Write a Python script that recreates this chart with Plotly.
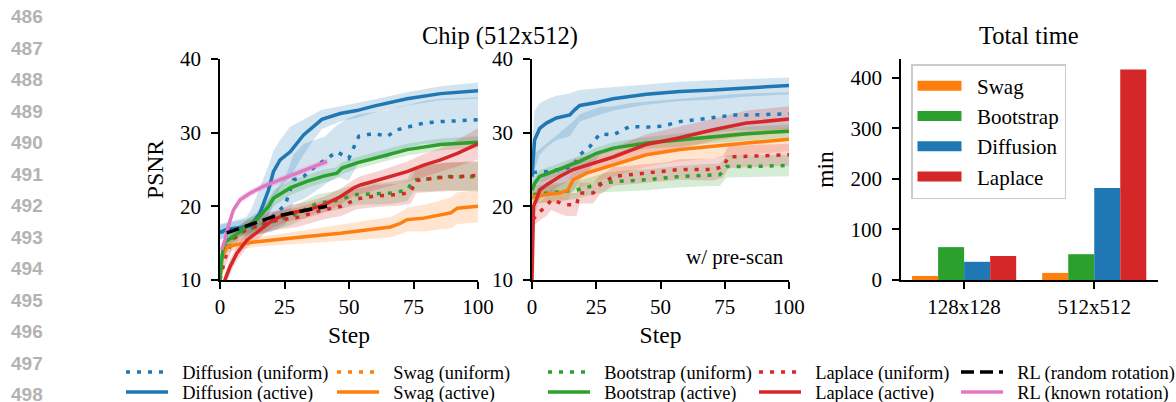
import plotly.graph_objects as go

# ---------------- colours ----------------
BLUE, ORANGE, GREEN, RED, PINK = '#1f77b4', '#ff7f0e', '#2ca02c', '#d62728', '#e377c2'
RGB = {BLUE: (31, 119, 180), ORANGE: (255, 127, 14), GREEN: (44, 160, 44),
       RED: (214, 39, 40), PINK: (227, 119, 194)}

# ---------------- left panel (no pre-scan) ----------------
L_DIFF_ACT_STEP = [0, 2, 5, 10, 12, 15.5, 18.8, 20.7, 23.3, 27.2, 32.4, 36.3, 39.5, 46.6, 53, 59.6, 72.5, 85.5, 100]
L_DIFF_ACT = [16.4, 16.8, 17.0, 17.2, 17.4, 19.1, 22.2, 24.7, 26.3, 27.4, 29.7, 30.8, 31.8, 32.6, 33.0, 33.6, 34.6, 35.3, 35.7]
L_DIFF_ACT_HI = [17.6, 17.8, 18.0, 18.5, 19.5, 22.5, 25.5, 27.5, 29.0, 30.8, 31.8, 32.5, 33.1, 33.6, 34.0, 34.5, 35.5, 36.3, 36.8]
L_DIFF_ACT_LO = [15.5, 15.8, 16.0, 16.2, 16.4, 17.0, 18.5, 20.5, 22.5, 24.0, 27.0, 29.0, 30.5, 31.5, 32.0, 32.7, 33.7, 34.4, 34.6]

L_DIFF_UNI_STEP = [0, 5, 10, 15, 20, 25.3, 28.5, 32.4, 36.9, 40.8, 45.3, 49.9, 53.8, 59.6, 64.8, 68.7, 73.2, 79, 85.5, 100]
L_DIFF_UNI = [16.5, 16.8, 17.0, 17.3, 18.5, 20.2, 23.6, 24.05, 25.4, 26.3, 27.4, 26.5, 29.5, 29.9, 29.5, 30.4, 30.8, 31.3, 31.5, 31.75]
L_DIFF_UNI_HI = [17.5, 17.8, 18.2, 19.0, 21.5, 24.0, 27.0, 28.5, 29.0, 29.5, 31.0, 32.0, 32.5, 32.8, 33.0, 33.5, 33.8, 34.3, 34.6, 34.8]
L_DIFF_UNI_LO = [15.5, 15.8, 16.0, 16.2, 16.5, 17.5, 20.5, 21.0, 22.0, 23.0, 24.0, 23.5, 26.0, 26.5, 26.5, 27.5, 28.0, 28.5, 28.5, 28.7]

L_BOOT_ACT_STEP = [0, 1, 2, 5.2, 10.4, 14.2, 18.8, 20.7, 27.2, 33.7, 40.2, 45.3, 47.3, 53.1, 59.6, 72.5, 85.5, 100]
L_BOOT_ACT = [10.0, 14.0, 15.2, 15.9, 17.3, 18.2, 20.0, 21.1, 22.5, 23.4, 24.1, 24.5, 25.2, 25.9, 26.5, 27.7, 28.4, 28.7]
L_BOOT_ACT_HI = [11.0, 15.0, 16.0, 16.7, 18.2, 19.2, 21.0, 22.2, 23.5, 24.3, 25.0, 25.3, 26.0, 26.7, 27.3, 28.5, 29.2, 29.5]
L_BOOT_ACT_LO = [9.5, 13.0, 14.4, 15.1, 16.4, 17.2, 19.0, 20.0, 21.5, 22.5, 23.2, 23.7, 24.4, 25.1, 25.7, 26.9, 27.6, 27.9]

L_BOOT_UNI_STEP = [0, 1, 3, 7.8, 18.1, 27.2, 37.6, 44, 53.1, 66.1, 72.5, 75.1, 80.3, 88.1, 100]
L_BOOT_UNI = [10.0, 13.5, 15.0, 16.5, 17.7, 18.6, 20.4, 20.7, 21.6, 21.8, 22.2, 23.6, 23.7, 24.05, 24.0]
L_BOOT_UNI_HI = [11.0, 14.5, 16.0, 17.5, 18.8, 19.8, 21.6, 22.0, 23.0, 23.3, 23.7, 25.3, 25.6, 26.0, 26.0]
L_BOOT_UNI_LO = [9.5, 12.5, 14.0, 15.5, 16.6, 17.4, 19.2, 19.4, 20.2, 20.3, 20.7, 22.0, 22.0, 22.2, 22.0]

L_LAP_UNI_STEP = [0, 2, 5, 10, 20, 30, 40, 47, 53, 60, 70, 74, 76, 85, 100]
L_LAP_UNI = [10.0, 13.0, 15.5, 16.8, 18.0, 18.5, 19.5, 20.0, 21.0, 21.4, 21.6, 22.0, 23.5, 23.9, 24.2]
L_LAP_UNI_HI = [11.0, 14.2, 16.6, 18.0, 19.3, 19.8, 20.8, 21.3, 22.4, 22.9, 23.1, 23.6, 25.2, 25.8, 26.2]
L_LAP_UNI_LO = [9.5, 11.8, 14.4, 15.6, 16.7, 17.2, 18.2, 18.7, 19.6, 19.9, 20.1, 20.4, 21.8, 22.0, 22.2]

L_LAP_ACT_STEP = [1, 1.9, 3.9, 6.5, 10.4, 15.5, 20.7, 27.2, 33.7, 40.2, 46.6, 51.8, 54.4, 59.6, 66.1, 72.5, 79, 85.5, 92, 100]
L_LAP_ACT = [8.0, 10.0, 11.8, 13.6, 15.4, 16.8, 18.2, 19.1, 19.5, 20.2, 21.3, 22.5, 22.9, 23.4, 24.05, 24.7, 25.6, 26.3, 27.2, 28.5]
L_LAP_ACT_HI = [9.0, 11.0, 12.8, 14.6, 16.4, 17.8, 19.2, 20.2, 20.6, 21.3, 22.4, 23.6, 24.1, 24.6, 25.3, 26.1, 27.1, 27.9, 29.0, 30.6]
L_LAP_ACT_LO = [7.0, 9.0, 10.8, 12.6, 14.4, 15.8, 17.2, 18.0, 18.4, 19.1, 20.2, 21.4, 21.7, 22.2, 22.8, 23.3, 24.1, 24.7, 25.4, 26.4]

L_SWAG_ACT_STEP = [1, 1.3, 2.6, 6.5, 14.2, 20.7, 33.7, 46.6, 59.6, 66.1, 70, 72.5, 79, 85.5, 89.4, 92, 100]
L_SWAG_ACT = [13.0, 13.6, 14.5, 14.8, 15.2, 15.4, 15.9, 16.35, 16.9, 17.2, 17.7, 18.2, 18.4, 18.85, 19.1, 19.75, 20.0]
L_SWAG_ACT_HI = [13.8, 14.4, 15.3, 15.5, 15.9, 16.1, 16.8, 17.4, 18.2, 18.6, 19.2, 19.8, 20.2, 20.8, 21.2, 21.9, 22.2]
L_SWAG_ACT_LO = [12.2, 12.8, 13.7, 14.1, 14.5, 14.7, 15.0, 15.3, 15.6, 15.8, 16.2, 16.6, 16.6, 16.9, 17.0, 17.6, 17.8]

# Swag (uniform) is listed in the legend but no curve is visible in the picture
L_SWAG_UNI_STEP = [None]
L_SWAG_UNI = [None]

RL_RANDOM_STEP = [2.6, 7.8, 20.7, 33.7, 41.5]
RL_RANDOM = [16.4, 17.0, 18.6, 19.5, 20.0]

RL_KNOWN_STEP = [0.6, 1.9, 3.2, 5.2, 7.8, 11.7, 16.8, 23.3, 29.8, 36.3, 41.5]
RL_KNOWN = [14.1, 15.4, 17.3, 19.5, 20.9, 21.8, 22.7, 23.6, 24.5, 25.4, 26.1]
RL_KNOWN_HI = [14.6, 15.9, 17.8, 20.0, 21.4, 22.3, 23.2, 24.1, 25.0, 25.9, 26.6]
RL_KNOWN_LO = [13.6, 14.9, 16.8, 19.0, 20.4, 21.3, 22.2, 23.1, 24.0, 24.9, 25.6]

# ---------------- middle panel (w/ pre-scan) ----------------
M_DIFF_ACT_STEP = [0, 1, 3, 5.6, 9.5, 14.7, 16.6, 18.6, 25.1, 31.6, 44.5, 57.5, 70.5, 83.5, 100]
M_DIFF_ACT = [24.0, 29.0, 30.6, 31.3, 32.0, 32.4, 33.1, 33.7, 34.1, 34.6, 35.2, 35.6, 35.8, 36.1, 36.4]
M_DIFF_ACT_HI = [28.0, 33.0, 34.0, 34.5, 35.0, 35.3, 35.6, 35.8, 36.0, 36.2, 36.6, 36.9, 37.1, 37.3, 37.5]
M_DIFF_ACT_LO = [20.0, 25.0, 27.0, 28.0, 29.0, 29.5, 30.5, 31.5, 32.3, 33.0, 33.8, 34.3, 34.5, 34.9, 35.2]

M_DIFF_UNI_STEP = [0.4, 5.6, 10.8, 16, 18.6, 22.5, 26.4, 31.6, 38.1, 44.5, 51, 57.5, 64, 70.5, 78.3, 83.5, 100]
M_DIFF_UNI = [24.6, 24.7, 25.0, 25.4, 27.0, 28.1, 29.85, 29.7, 30.85, 30.75, 30.9, 31.5, 31.75, 32.0, 32.4, 32.4, 32.55]
M_DIFF_UNI_HI = [27.0, 28.5, 30.0, 31.5, 32.5, 33.0, 33.5, 33.6, 34.0, 34.2, 34.4, 34.6, 34.8, 35.0, 35.2, 35.3, 35.5]
M_DIFF_UNI_LO = [21.0, 21.5, 21.8, 22.0, 23.5, 25.0, 27.0, 27.5, 28.5, 28.8, 29.0, 29.5, 29.8, 30.0, 30.3, 30.4, 30.5]

M_BOOT_ACT_STEP = [0, 1, 3, 8.2, 13.4, 18.6, 25.1, 31.6, 44.5, 57.5, 70.5, 83.5, 100]
M_BOOT_ACT = [22.2, 23.1, 24.05, 24.7, 25.4, 26.1, 27.2, 27.9, 28.6, 29.0, 29.5, 29.85, 30.2]
M_BOOT_ACT_HI = [23.2, 24.0, 24.9, 25.5, 26.2, 26.9, 28.0, 28.7, 29.4, 29.9, 30.4, 30.8, 31.1]
M_BOOT_ACT_LO = [21.2, 22.2, 23.2, 23.9, 24.6, 25.3, 26.4, 27.1, 27.8, 28.1, 28.6, 28.9, 29.3]

M_LAP_ACT_STEP = [0, 0.3, 0.6, 1.7, 3, 5.6, 10.8, 16, 21.2, 31.6, 44.5, 57.5, 70.5, 83.5, 100]
M_LAP_ACT = [10.0, 16.0, 20.0, 20.9, 22.2, 22.9, 24.05, 25.0, 25.6, 26.7, 28.4, 29.3, 30.4, 31.3, 31.85]
M_LAP_ACT_HI = [11.0, 17.5, 21.5, 22.2, 23.5, 24.2, 25.3, 26.3, 26.9, 28.0, 29.8, 30.8, 31.9, 33.0, 33.6]
M_LAP_ACT_LO = [9.0, 14.5, 18.5, 19.6, 20.9, 21.6, 22.8, 23.7, 24.3, 25.4, 27.0, 27.8, 28.9, 29.6, 30.1]

M_SWAG_ACT_STEP = [0, 0.4, 5.6, 10.8, 14, 16, 21.2, 31.6, 44.5, 57.5, 70.5, 83.5, 100]
M_SWAG_ACT = [21.0, 21.3, 21.6, 21.8, 22.2, 23.6, 24.5, 25.6, 27.0, 27.7, 28.2, 28.6, 29.1]
M_SWAG_ACT_HI = [22.0, 22.3, 22.7, 23.0, 23.5, 25.0, 26.0, 27.2, 28.6, 29.3, 29.8, 30.2, 30.7]
M_SWAG_ACT_LO = [20.0, 20.3, 20.5, 20.6, 20.9, 22.2, 23.0, 24.0, 25.4, 26.1, 26.6, 27.0, 27.5]

M_LAP_UNI_STEP = [0.4, 2.3, 5.6, 7.5, 10.8, 13.4, 17.3, 18.6, 23.8, 26.4, 31.6, 44.5, 52.3, 57.5, 70.5, 74.4, 76.4, 83.5, 100]
M_LAP_UNI = [18.2, 19.1, 20.0, 20.9, 20.5, 20.2, 20.2, 21.8, 21.8, 22.9, 24.05, 24.5, 24.7, 25.0, 25.0, 25.4, 26.7, 26.8, 27.0]
M_LAP_UNI_HI = [19.5, 20.4, 21.4, 22.3, 22.0, 21.8, 21.8, 23.2, 23.2, 24.2, 25.3, 25.8, 26.0, 26.4, 26.5, 26.9, 28.2, 28.3, 28.5]
M_LAP_UNI_LO = [17.2, 17.9, 18.7, 19.5, 19.0, 18.7, 18.7, 20.4, 20.4, 21.6, 22.8, 23.2, 23.4, 23.6, 23.5, 23.9, 25.2, 25.3, 25.5]

M_BOOT_UNI_STEP = [0.4, 5.6, 12.1, 17.3, 22.5, 27.7, 34.2, 44.5, 57.5, 73.1, 75.7, 83.5, 100]
M_BOOT_UNI = [21.6, 21.8, 22.0, 22.2, 22.7, 23.2, 23.4, 23.6, 24.05, 24.3, 25.4, 25.4, 25.55]
M_BOOT_UNI_HI = [22.8, 23.0, 23.2, 23.4, 23.9, 24.5, 24.8, 25.0, 25.5, 25.8, 26.9, 26.9, 27.0]
M_BOOT_UNI_LO = [20.4, 20.6, 20.8, 21.0, 21.5, 21.9, 22.0, 22.2, 22.6, 22.8, 23.9, 23.9, 24.1]

# ---------------- bar panel (total time, minutes) ----------------
RESOLUTIONS = ['128x128', '512x512']
SWAG_TIME = [8, 14]
BOOT_TIME = [65, 51]
DIFF_TIME = [36, 182]
LAP_TIME = [47.5, 416]

LINE_NUMBERS = [str(n) for n in range(486, 499)]

# ---------------- figure ----------------
W, H = 1176, 402
SERIF = 'Liberation Serif'
GAP = '\u00a0\u00a0'   # small gap between legend swatch and label
fig = go.Figure()


def rgba(c, a):
    r, g, b = RGB[c]
    return f'rgba({r},{g},{b},{a})'


def band(xa, ya, steps, lo, hi, color, alpha=0.2):
    fig.add_trace(go.Scatter(x=list(steps) + list(steps)[::-1], y=list(hi) + list(lo)[::-1],
                             fill='toself', fillcolor=rgba(color, alpha), line=dict(width=0),
                             mode='lines', showlegend=False, hoverinfo='skip', xaxis=xa, yaxis=ya))


def line(xa, ya, steps, vals, color, dash, name, leg, rank, show):
    fig.add_trace(go.Scatter(x=steps, y=vals, mode='lines', name=GAP + name,
                             line=dict(color=color, width=3.5, dash=dash),
                             legend=leg, legendrank=rank, showlegend=show,
                             xaxis=xa, yaxis=ya))


DOT = '4px,7px'
DASHED = '13px,6px'

# left panel
band('x', 'y', L_DIFF_UNI_STEP, L_DIFF_UNI_LO, L_DIFF_UNI_HI, BLUE)
band('x', 'y', L_DIFF_ACT_STEP, L_DIFF_ACT_LO, L_DIFF_ACT_HI, BLUE)
band('x', 'y', L_SWAG_ACT_STEP, L_SWAG_ACT_LO, L_SWAG_ACT_HI, ORANGE)
band('x', 'y', L_BOOT_UNI_STEP, L_BOOT_UNI_LO, L_BOOT_UNI_HI, GREEN)
band('x', 'y', L_BOOT_ACT_STEP, L_BOOT_ACT_LO, L_BOOT_ACT_HI, GREEN)
band('x', 'y', L_LAP_UNI_STEP, L_LAP_UNI_LO, L_LAP_UNI_HI, RED)
band('x', 'y', L_LAP_ACT_STEP, L_LAP_ACT_LO, L_LAP_ACT_HI, RED)
band('x', 'y', RL_KNOWN_STEP, RL_KNOWN_LO, RL_KNOWN_HI, PINK)

line('x', 'y', L_DIFF_UNI_STEP, L_DIFF_UNI, BLUE, DOT, 'Diffusion (uniform)', 'legend', 1, True)
line('x', 'y', L_SWAG_UNI_STEP, L_SWAG_UNI, ORANGE, DOT, 'Swag (uniform)', 'legend', 2, True)
line('x', 'y', L_BOOT_UNI_STEP, L_BOOT_UNI, GREEN, DOT, 'Bootstrap (uniform)', 'legend', 3, True)
line('x', 'y', L_LAP_UNI_STEP, L_LAP_UNI, RED, DOT, 'Laplace (uniform)', 'legend', 4, True)
line('x', 'y', L_DIFF_ACT_STEP, L_DIFF_ACT, BLUE, 'solid', 'Diffusion (active)', 'legend3', 6, True)
line('x', 'y', L_SWAG_ACT_STEP, L_SWAG_ACT, ORANGE, 'solid', 'Swag (active)', 'legend3', 7, True)
line('x', 'y', L_BOOT_ACT_STEP, L_BOOT_ACT, GREEN, 'solid', 'Bootstrap (active)', 'legend3', 8, True)
line('x', 'y', L_LAP_ACT_STEP, L_LAP_ACT, RED, 'solid', 'Laplace (active)', 'legend3', 9, True)
line('x', 'y', RL_KNOWN_STEP, RL_KNOWN, PINK, 'solid', 'RL (known rotation)', 'legend5', 10, True)
line('x', 'y', RL_RANDOM_STEP, RL_RANDOM, 'black', DASHED, 'RL (random rotation)', 'legend4', 5, True)

# middle panel
band('x2', 'y2', M_DIFF_UNI_STEP, M_DIFF_UNI_LO, M_DIFF_UNI_HI, BLUE)
band('x2', 'y2', M_DIFF_ACT_STEP, M_DIFF_ACT_LO, M_DIFF_ACT_HI, BLUE)
band('x2', 'y2', M_SWAG_ACT_STEP, M_SWAG_ACT_LO, M_SWAG_ACT_HI, ORANGE)
band('x2', 'y2', M_BOOT_UNI_STEP, M_BOOT_UNI_LO, M_BOOT_UNI_HI, GREEN)
band('x2', 'y2', M_BOOT_ACT_STEP, M_BOOT_ACT_LO, M_BOOT_ACT_HI, GREEN)
band('x2', 'y2', M_LAP_UNI_STEP, M_LAP_UNI_LO, M_LAP_UNI_HI, RED)
band('x2', 'y2', M_LAP_ACT_STEP, M_LAP_ACT_LO, M_LAP_ACT_HI, RED)

line('x2', 'y2', M_DIFF_UNI_STEP, M_DIFF_UNI, BLUE, DOT, 'Diffusion (uniform)', 'legend', 1, False)
line('x2', 'y2', M_BOOT_UNI_STEP, M_BOOT_UNI, GREEN, DOT, 'Bootstrap (uniform)', 'legend', 3, False)
line('x2', 'y2', M_LAP_UNI_STEP, M_LAP_UNI, RED, DOT, 'Laplace (uniform)', 'legend', 4, False)
line('x2', 'y2', M_DIFF_ACT_STEP, M_DIFF_ACT, BLUE, 'solid', 'Diffusion (active)', 'legend3', 6, False)
line('x2', 'y2', M_SWAG_ACT_STEP, M_SWAG_ACT, ORANGE, 'solid', 'Swag (active)', 'legend3', 7, False)
line('x2', 'y2', M_BOOT_ACT_STEP, M_BOOT_ACT, GREEN, 'solid', 'Bootstrap (active)', 'legend3', 8, False)
line('x2', 'y2', M_LAP_ACT_STEP, M_LAP_ACT, RED, 'solid', 'Laplace (active)', 'legend3', 9, False)

# bar panel
for name, vals, color in [('Swag', SWAG_TIME, ORANGE), ('Bootstrap', BOOT_TIME, GREEN),
                          ('Diffusion', DIFF_TIME, BLUE), ('Laplace', LAP_TIME, RED)]:
    fig.add_trace(go.Bar(x=RESOLUTIONS, y=vals, marker=dict(color=color, line=dict(width=0)),
                         name=name, showlegend=False, xaxis='x3', yaxis='y3'))
    fig.add_trace(go.Scatter(x=[None], y=[None], mode='lines', name=GAP + name,
                             line=dict(color=color, width=15), legend='legend2',
                             xaxis='x3', yaxis='y3'))


def px(v):
    return v / W


def py(v):
    return 1 - v / H


Y0, Y1 = py(280), py(59)
tickfont = dict(family=SERIF, size=21, color='black')
titlefont = dict(family=SERIF, size=23.5, color='black')
axis_common = dict(showline=True, linecolor='black', linewidth=1.5, ticks='outside', ticklen=7,
                   tickwidth=1.5, tickcolor='black', showgrid=False, zeroline=False,
                   tickfont=tickfont, mirror=False)
legfont = dict(family=SERIF, size=18.4, color='black')
row_leg = dict(orientation='h', xanchor='left', yanchor='middle', font=legfont, itemwidth=42,
               bgcolor='rgba(0,0,0,0)')

fig.update_layout(
    width=W, height=H, margin=dict(l=0, r=0, t=0, b=0, autoexpand=False),
    paper_bgcolor='white', plot_bgcolor='white',
    font=dict(family=SERIF, color='black'),
    barmode='group', bargap=0.2, bargroupgap=0,
    xaxis=dict(domain=[px(220), px(478)], range=[0, 100], tickvals=[0, 25, 50, 75, 100],
               anchor='y', title=dict(text='Step', font=titlefont, standoff=9), **axis_common),
    yaxis=dict(domain=[Y0, Y1], range=[10, 40], tickvals=[10, 20, 30, 40], anchor='x',
               title=dict(text='PSNR', font=titlefont, standoff=10), ticklabelstandoff=6, **axis_common),
    xaxis2=dict(domain=[px(532), px(789)], range=[0, 100], tickvals=[0, 25, 50, 75, 100],
                anchor='y2', title=dict(text='Step', font=titlefont, standoff=9), **axis_common),
    yaxis2=dict(domain=[Y0, Y1], range=[10, 40], tickvals=[10, 20, 30, 40], anchor='x2',
                ticklabelstandoff=6, **axis_common),
    xaxis3=dict(domain=[px(901), px(1158)], range=[-0.485, 1.49], anchor='y3', **axis_common),
    yaxis3=dict(domain=[Y0, Y1], range=[0, 437], tickvals=[0, 100, 200, 300, 400], anchor='x3',
                title=dict(text='min', font=titlefont, standoff=10), ticklabelstandoff=6, **axis_common),
    legend=dict(x=px(121), y=py(372), entrywidth=154, **row_leg),
    legend3=dict(x=px(121), y=py(392), entrywidth=154, **row_leg),
    legend4=dict(x=px(956), y=py(372), **row_leg),
    legend5=dict(x=px(956), y=py(392), **row_leg),
    legend2=dict(x=px(911), y=py(64), xanchor='left', yanchor='top',
                 font=dict(family=SERIF, size=21, color='black'), itemwidth=44,
                 bgcolor='rgba(255,255,255,0.8)', bordercolor='#cccccc', borderwidth=1.5,
                 tracegroupgap=0),
)

annotations = [
    dict(text='Chip (512x512)', x=px(500), y=py(35.5), font=dict(family=SERIF, size=24.5, color='black')),
    dict(text='Total time', x=px(1029), y=py(35.5), font=dict(family=SERIF, size=24.5, color='black')),
    dict(text='w/ pre-scan', x=px(786), y=py(257), xanchor='right', font=dict(family=SERIF, size=21, color='black')),
]
for i, lab in enumerate(LINE_NUMBERS):
    annotations.append(dict(text=f'<b>{lab}</b>', x=px(27), y=py(16.7 + 31.5 * i),
                            font=dict(family='Liberation Sans', size=19, color='#b3b3b3')))
for a in annotations:
    a.update(xref='paper', yref='paper', showarrow=False, yanchor=a.get('yanchor', 'middle'),
             xanchor=a.get('xanchor', 'center'))
fig.update_layout(annotations=annotations)

fig.write_html('out.html', post_script="document.body.style.margin='0';")
